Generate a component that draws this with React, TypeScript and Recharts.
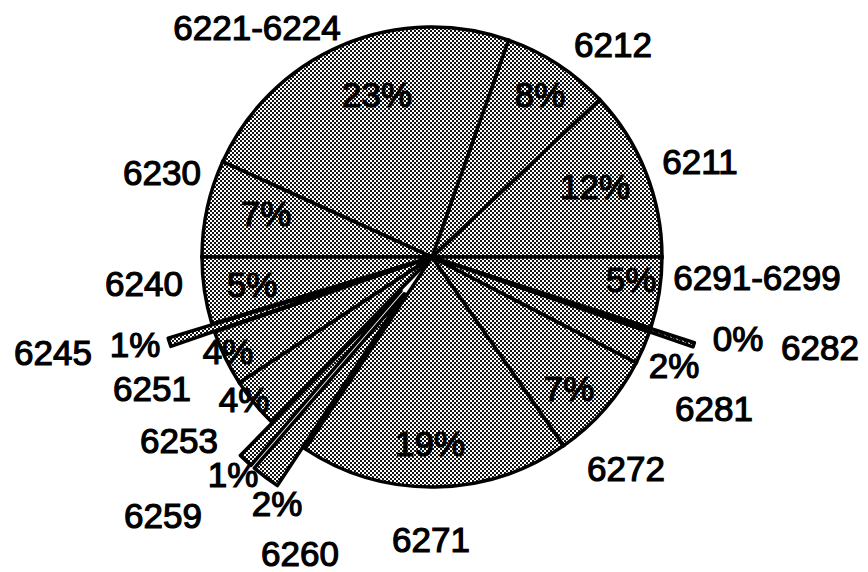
import { PieChart, Pie, Cell, Sector } from "recharts";

// account codes, counter-clockwise from 3 o'clock
const codes = [
  "6211",
  "6212",
  "6221-6224",
  "6230",
  "6240",
  "6245",
  "6251",
  "6253",
  "6259",
  "6260",
  "6271",
  "6272",
  "6281",
  "6282",
  "6291-6299",
];
const shares = [12.0, 7.6, 23.6, 6.8, 4.7, 0.6, 3.9, 3.5, 1.0, 2.0, 19.0, 7.7, 2.3, 0.3, 5.0];
const pctLabels = ["12%", "8%", "23%", "7%", "5%", "1%", "4%", "4%", "1%", "2%", "19%", "7%", "2%", "0%", "5%"];
const explodedCodes = ["6245", "6259", "6260", "6282"];

// label placement, relative to the pie centre
const codePos: [number, number][] = [
  [268, -96],
  [181, -213],
  [-175, -230],
  [-270, -85],
  [-288, 26],
  [-379, 95],
  [-280, 131],
  [-253, 183],
  [-269, 258],
  [-132, 296],
  [-1, 282],
  [194, 211],
  [282, 151],
  [388, 90],
  [325, 20],
];
const pctPos: [number, number][] = [
  [163, -71],
  [108, -163],
  [-55, -163],
  [-166, -44],
  [-180, 27],
  [-297, 87],
  [-204, 94],
  [-188, 142],
  [-199, 217],
  [-155, 246],
  [-2, 186],
  [137, 131],
  [242, 108],
  [306, 81],
  [199, 22],
];

const data = codes.map((code, i) => ({ name: code, value: shares[i] }));

const EXPLODE = 46;
const FONT = "'Liberation Sans', Arial, Helvetica, sans-serif";

function ExplodedSlice(props: any) {
  const { cx, cy, midAngle, outerRadius, startAngle, endAngle, index } = props;
  if (!explodedCodes.includes(codes[index])) return <g />;
  const rad = (Math.PI / 180) * midAngle;
  return (
    <Sector
      cx={cx + EXPLODE * Math.cos(rad)}
      cy={cy - EXPLODE * Math.sin(rad)}
      innerRadius={0}
      outerRadius={outerRadius}
      startAngle={startAngle}
      endAngle={endAngle}
      fill="url(#dots)"
      stroke="#000"
      strokeWidth={3.5}
      strokeLinejoin="round"
    />
  );
}

function SliceText(props: any) {
  const { cx, cy, index } = props;
  const [nx, ny] = codePos[index];
  const [px, py] = pctPos[index];
  const common = {
    textAnchor: "middle" as const,
    fontFamily: FONT,
    fontSize: 35,
    fill: "#000",
    stroke: "#000",
    strokeWidth: 1.2,
  };
  return (
    <g>
      <text x={cx + nx} y={cy + ny + 12.5} {...common}>
        {codes[index]}
      </text>
      <text x={cx + px} y={cy + py + 12.5} {...common}>
        {pctLabels[index]}
      </text>
    </g>
  );
}

export default function App() {
  return (
    <div style={{ position: "absolute", left: 0, top: 0, width: 868, height: 572, background: "#fff" }}>
      <PieChart width={868} height={572} margin={{ top: 0, right: 0, bottom: 0, left: 0 }}>
        <defs>
          <pattern id="dots" width={4} height={4} patternUnits="userSpaceOnUse">
            <rect width={4} height={4} fill="#fff" />
            <rect x={0} y={0} width={2} height={2} fill="#111" />
            <rect x={2} y={2} width={2} height={2} fill="#111" />
          </pattern>
        </defs>
        <Pie
          data={data}
          dataKey="value"
          nameKey="name"
          cx={432}
          cy={257}
          outerRadius={230}
          startAngle={0}
          endAngle={360}
          stroke="#000"
          strokeWidth={3.5}
          fill="url(#dots)"
          labelLine={false}
          label={ExplodedSlice}
          isAnimationActive={false}
        >
          {data.map((d) => (
            <Cell
              key={d.name}
              fill={explodedCodes.includes(d.name) ? "none" : "url(#dots)"}
              stroke={explodedCodes.includes(d.name) ? "none" : "#000"}
            />
          ))}
        </Pie>
        <Pie
          data={data}
          dataKey="value"
          nameKey="name"
          cx={432}
          cy={257}
          outerRadius={230}
          startAngle={0}
          endAngle={360}
          fill="none"
          stroke="none"
          labelLine={false}
          label={SliceText}
          isAnimationActive={false}
        />
      </PieChart>
    </div>
  );
}
